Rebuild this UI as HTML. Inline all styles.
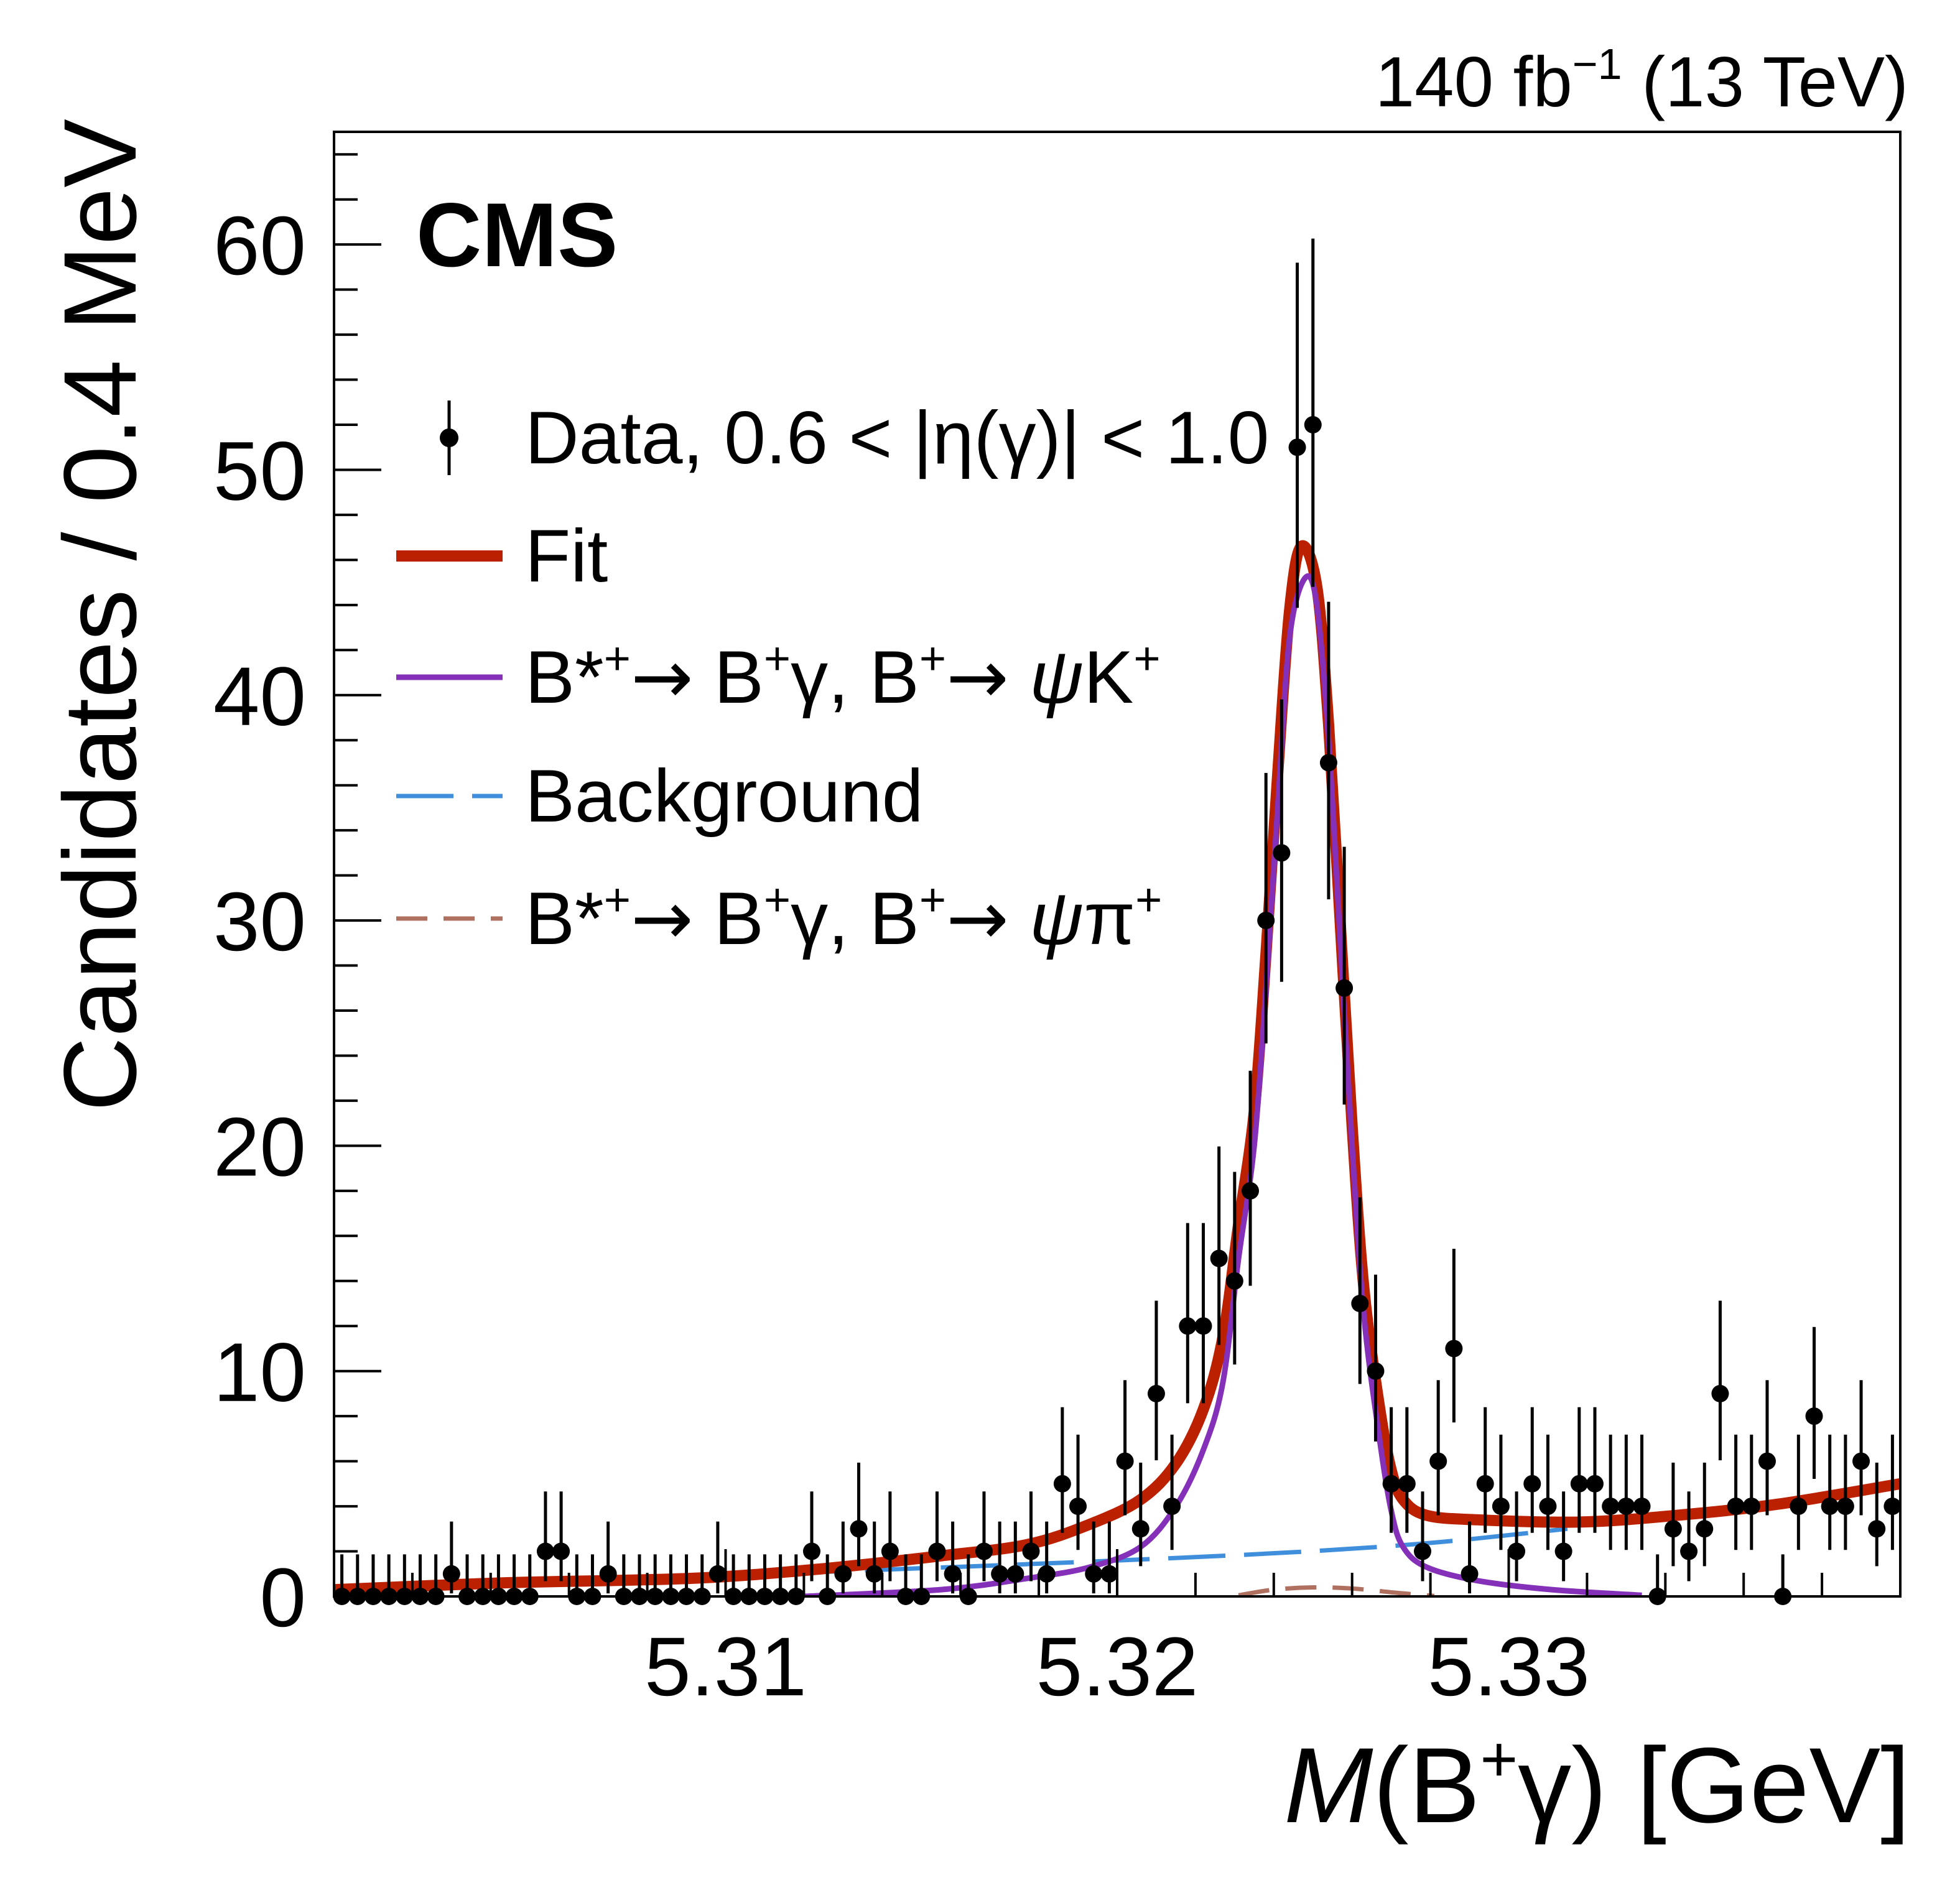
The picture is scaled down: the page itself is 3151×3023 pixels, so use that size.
<!DOCTYPE html>
<html><head><meta charset="utf-8"><style>
html,body{margin:0;padding:0;background:#fff}
svg{display:block}
text{font-family:"Liberation Sans",sans-serif;fill:#000}
.arr{font-family:"DejaVu Sans",sans-serif}
</style></head><body>
<svg id="chart" width="3151" height="3023" viewBox="0 0 3151 3023" xmlns="http://www.w3.org/2000/svg">
<g id="curves"></g>
<g id="points"></g>
<g id="axes"></g>
<text x="669" y="428" font-size="146" font-weight="bold">CMS</text>
<text x="3068" y="171" font-size="114" text-anchor="end">140 fb<tspan dy="-44" font-size="70">−1</tspan><tspan dy="44"> (13 TeV)</tspan></text>
<text transform="translate(218,191) rotate(-90)" font-size="166" text-anchor="end">Candidates / 0.4 MeV</text>
<text x="3071" y="2930" font-size="172" text-anchor="end"><tspan font-style="italic">M</tspan>(B<tspan dy="-66" font-size="104">+</tspan><tspan dy="66">γ) [GeV]</tspan></text>
<g font-size="120">
 <g>
  <line x1="722" y1="644" x2="722" y2="764" stroke="#000" stroke-width="5"/>
  <circle cx="722" cy="704" r="15" fill="#000"/>
  <text x="844" y="745">Data, 0.6 &lt; |η(γ)| &lt; 1.0</text>
 </g>
 <g>
  <line x1="637" y1="894" x2="808" y2="894" stroke="#bb2000" stroke-width="18"/>
  <text x="844" y="935">Fit</text>
 </g>
 <g>
  <line x1="637" y1="1089" x2="808" y2="1089" stroke="#8430b8" stroke-width="9"/>
  <text x="844" y="1130">B*<tspan dy="-46" font-size="74">+</tspan><tspan dy="46" class="arr">→</tspan> B<tspan dy="-46" font-size="74">+</tspan><tspan dy="46">γ, B</tspan><tspan dy="-46" font-size="74">+</tspan><tspan dy="46" class="arr">→</tspan> <tspan font-style="italic">ψ</tspan>K<tspan dy="-46" font-size="74">+</tspan></text>
 </g>
 <g>
  <line x1="637" y1="1280" x2="808" y2="1280" stroke="#3f8fdc" stroke-width="7" stroke-dasharray="92 30"/>
  <text x="844" y="1321">Background</text>
 </g>
 <g>
  <line x1="637" y1="1477" x2="808" y2="1477" stroke="#b07060" stroke-width="7" stroke-dasharray="50 26"/>
  <text x="844" y="1518">B*<tspan dy="-46" font-size="74">+</tspan><tspan dy="46" class="arr">→</tspan> B<tspan dy="-46" font-size="74">+</tspan><tspan dy="46">γ, B</tspan><tspan dy="-46" font-size="74">+</tspan><tspan dy="46" class="arr">→</tspan> <tspan font-style="italic">ψ</tspan>π<tspan dy="-46" font-size="74">+</tspan></text>
 </g>
</g>
</svg>
<script>
const counts = [0,0,0,0,0,0,0,1,0,0,0,0,0,2,2,0,0,1,0,0,0,0,0,0,1,0,0,0,0,0,
2,0,1,3,1,2,0,0,2,1,0,2,1,1,2,1,5,4,1,1,6,3,9,4,12,12,15,14,18,30,
33,51,52,37,27,13,10,5,5,2,6,11,1,5,4,2,5,4,2,5,5,4,4,4,0,3,2,3,9,4,
4,6,0,4,8,4,4,6,3,4];
const binStart = 5.300;
const binWidth = 0.0004;
const fitX = [5.3000,5.3043,5.3091,5.3123,5.3155,5.3177,5.3193,5.3206,5.3215,5.3222,5.3227,5.3231,5.3235,5.3238,5.3241,5.3244,5.3247,5.3251,5.3254,5.3257,5.3260,5.3263,5.3267,5.3270,5.3273,5.3279,5.3292,5.3318,5.3343,5.3369,5.3400];
const fitY = [0.3,0.6,0.8,1.2,1.8,2.3,3.2,4.3,5.9,8.3,11.5,16.5,21.5,28.5,36.5,43.7,46.6,44.8,38.7,29.8,20.9,13.7,8.4,5.6,4.3,3.6,3.4,3.3,3.6,4.1,5.0];
const sigX = [5.3120,5.3155,5.3177,5.3193,5.3206,5.3215,5.3222,5.3227,5.3231,5.3235,5.3238,5.3241,5.3244,5.3248,5.3251,5.3254,5.3257,5.3260,5.3263,5.3267,5.3270,5.3273,5.3279,5.3292,5.3311,5.3334];
const sigY = [0.0,0.3,0.8,1.3,2.2,4.0,6.5,9.5,15,20,27,35,42.5,45.2,44,38,29,20,12.5,7,3.8,2.2,1.3,0.7,0.3,0.05];
const bkgX = [5.3000,5.3187,5.3267,5.3315];
const bkgY = [0.3,1.5,2.2,3.0];
const piX = [5.3231,5.3240,5.3250,5.3260,5.3272,5.3281];
const piY = [0.05,0.3,0.4,0.35,0.15,0.02];
const yTicks = [0,10,20,30,40,50,60];
const xTicks = [5.31,5.32,5.33];
const xTickLabels = ["5.31","5.32","5.33"];

const L=537,R=3055,T=212,B=2567,xMin=5.300,xMax=5.340,yMin=0,yMax=65;
const sx=v=>L+(v-xMin)/(xMax-xMin)*(R-L);
const sy=v=>B-(v-yMin)/(yMax-yMin)*(B-T);
const NS="http://www.w3.org/2000/svg";
function mk(tag,attrs,parent){const e=document.createElementNS(NS,tag);for(const k in attrs)e.setAttribute(k,attrs[k]);parent.appendChild(e);return e;}
function smooth(xs,ys){
  const p=xs.map((x,i)=>[sx(x),sy(ys[i])]);
  let d="M"+p[0][0]+","+p[0][1];
  for(let i=0;i<p.length-1;i++){
    const p0=p[Math.max(0,i-1)],p1=p[i],p2=p[i+1],p3=p[Math.min(p.length-1,i+2)];
    const c1=[p1[0]+(p2[0]-p0[0])/6,p1[1]+(p2[1]-p0[1])/6];
    const c2=[p2[0]-(p3[0]-p1[0])/6,p2[1]-(p3[1]-p1[1])/6];
    d+=" C"+c1[0]+","+c1[1]+" "+c2[0]+","+c2[1]+" "+p2[0]+","+p2[1];
  }
  return d;
}
const cg=document.getElementById('curves');
const defs=mk('defs',{},document.getElementById('chart'));
const cp=mk('clipPath',{id:'plotclip'},defs);
mk('rect',{x:L,y:T,width:R-L,height:B-T},cp);
cg.setAttribute('clip-path','url(#plotclip)');
let e;
e=mk('path',{d:smooth(bkgX,bkgY),fill:'none',stroke:'#3f8fdc','stroke-width':7,'stroke-dasharray':'92 30'},cg);


e=mk('path',{d:smooth(piX,piY),fill:'none',stroke:'#b07060','stroke-width':7,'stroke-dasharray':'50 26'},cg);


e=mk('path',{d:smooth(fitX,fitY),fill:'none',stroke:'#bb2000','stroke-width':18,'stroke-linejoin':'round'},cg);


e=mk('path',{d:smooth(sigX,sigY),fill:'none',stroke:'#8430b8','stroke-width':9},cg);



const pg=document.getElementById('points');
counts.forEach((n,i)=>{
  const x=sx(binStart+binWidth*(i+0.5));
  const up=n+1+Math.sqrt(n+0.75);
  const lo=n>0?Math.max(0,n-Math.sqrt(n-0.25)):0;
  const g=mk('g',{},pg);
  
  
  mk('line',{x1:x,x2:x,y1:sy(Math.min(up,yMax)),y2:sy(lo),stroke:'#000','stroke-width':5},g);
  mk('circle',{cx:x,cy:sy(n),r:14,fill:'#000'},g);
});

const ag=document.getElementById('axes');
e=mk('rect',{x:L,y:T,width:R-L,height:B-T,fill:'none',stroke:'#000','stroke-width':4},ag);


for(let v=0;v<=64;v+=2){
  const major=v%10===0;
  mk('line',{x1:L,x2:L+(major?76:38),y1:sy(v),y2:sy(v),stroke:'#000','stroke-width':4},ag);
}
yTicks.forEach(v=>{
  const t=mk('text',{x:492,y:sy(v)+48,'font-size':134,'text-anchor':'end'},ag);
  t.textContent=String(v);
  
  
});
for(let k=1;k<20;k++){
  const v=xMin+k*0.002;
  const major=k%5===0;
  mk('line',{x1:sx(v),x2:sx(v),y1:B,y2:B-(major?76:38),stroke:'#000','stroke-width':4},ag);
}
xTicks.forEach((v,i)=>{
  const t=mk('text',{x:sx(v),y:2726,'font-size':134,'text-anchor':'middle'},ag);
  t.textContent=xTickLabels[i];
  
  
});
</script>
</body></html>
